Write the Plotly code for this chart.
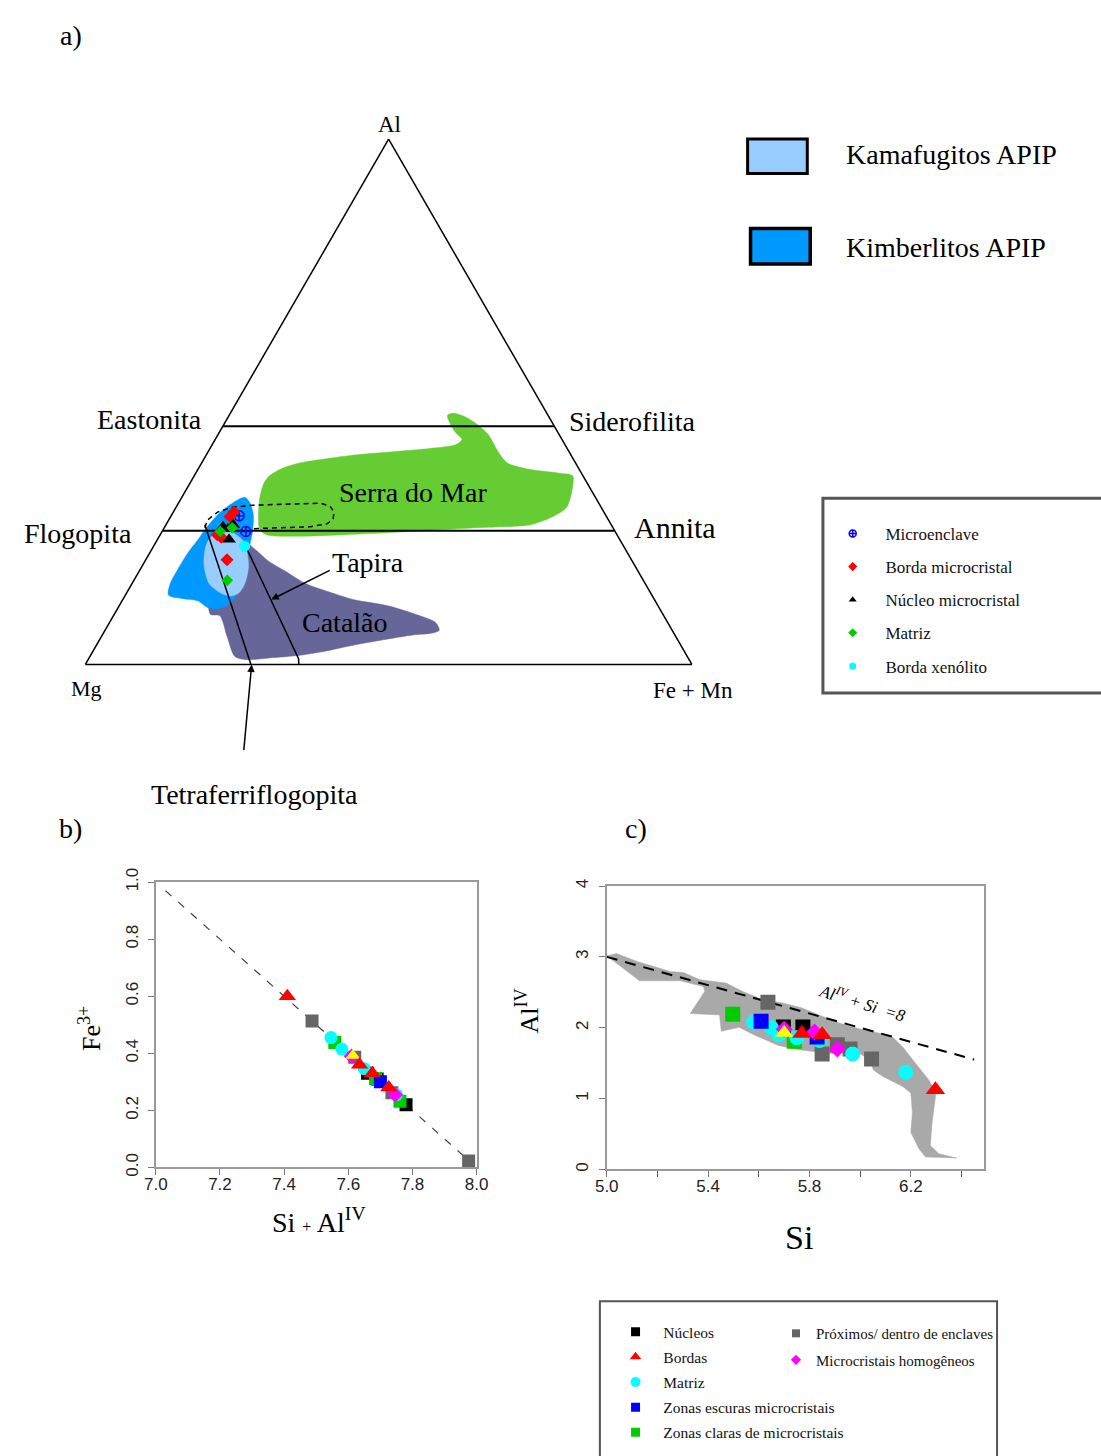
import plotly.graph_objects as go

W, H = 1101, 1456
SERIF = "Liberation Serif, Times New Roman, serif"
SANS = "Liberation Sans, Arial, sans-serif"
NB = "\u00a0"

# ---------------- Panel a: ternary Al - Mg - (Fe+Mn), values in % ----------------
# Fields given as Al % and Fe+Mn %; Mg = 100 - Al - Fe
serra_al = [25.7, 31.2, 34.4, 35.9, 37.4, 38.3, 39.2, 40.0, 40.5, 41.1, 41.8, 42.8, 44.2, 46.1, 47.4,
            47.8, 47.4, 46.1, 43.7, 40.5, 38.3, 37.2, 36.4, 35.9, 33.6, 29.9, 27.9, 26.6, 26.0, 25.3,
            24.7, 24.4, 24.7]
serra_fe = [15.9, 13.1, 12.2, 12.4, 13.9, 16.0, 20.4, 25.5, 30.6, 36.2, 40.1, 40.7, 38.9, 37.0, 36.0,
            36.6, 38.4, 41.1, 44.6, 47.8, 50.5, 54.3, 60.0, 62.4, 63.5, 64.4, 62.7, 60.1, 51.2, 40.9,
            30.4, 22.5, 17.5]

kimb_al = [31.8, 30.7, 28.4, 25.3, 22.9, 19.1, 14.5, 12.1, 10.8, 10.8, 12.1, 12.5, 13.2, 15.4, 18.2,
           21.4, 23.8, 25.7, 28.8, 30.7]
kimb_fe = [10.4, 11.8, 13.5, 14.9, 15.7, 17.0, 18.1, 18.2, 17.2, 14.8, 12.5, 9.9, 7.1, 6.3, 6.2,
           6.3, 6.7, 6.9, 7.7, 8.9]

kama_al = [23.0, 19.1, 15.4, 13.6, 13.0, 13.6, 15.4, 18.6, 21.6, 23.4, 25.3, 25.0]
kama_fe = [8.5, 10.0, 12.7, 15.5, 17.4, 18.5, 18.6, 17.6, 15.8, 14.4, 11.2, 9.0]

catal_al = [23.2, 21.6, 19.7, 17.7, 15.4, 13.6, 12.3, 11.2, 9.5, 8.0, 6.5, 6.0, 5.6, 4.8, 3.7,
            2.4, 1.7, 1.3, 0.9, 1.5, 5.2, 9.3, 9.5, 12.1, 13.6, 17.3]
catal_fe = [14.7, 17.5, 20.3, 24.2, 28.6, 33.9, 38.2, 44.1, 49.8, 53.7, 55.1, 54.3, 51.2, 47.3, 42.5,
            37.8, 34.3, 30.3, 26.1, 23.9, 20.8, 17.5, 15.9, 14.4, 18.2, 18.0]

tapira_l_al = [26.6, 0.0]
tapira_l_fe = [6.4, 27.3]
tapira_r_al = [22.7, 1.1, 0.0]
tapira_r_fe = [15.0, 34.6, 35.2]

dash_al = [26.0, 27.5, 29.0, 29.9, 30.3, 30.5, 30.7, 30.1, 29.0, 27.7, 26.8, 26.2, 26.0, 25.8]
dash_fe = [6.7, 6.4, 7.3, 9.2, 12.3, 17.8, 23.4, 25.3, 26.5, 27.0, 26.5, 24.0, 18.4, 14.2]

east_al = 45.35   # Eastonita - Siderofilita divide
flog_al = 25.46   # Flogopita - Annita divide

micro_al = [28.3, 25.3]
micro_fe = [11.2, 13.8]
bmicro_al = [29.0, 28.1, 24.7, 24.2, 19.9]
bmicro_fe = [10.0, 9.8, 9.4, 10.3, 13.4]
nmicro_al = [26.2, 25.8, 23.8, 26.6]
nmicro_fe = [9.6, 10.6, 11.8, 11.1]
matriz_al = [25.3, 26.0, 16.0]
matriz_fe = [9.6, 11.2, 15.4]
bxeno_al = [22.5]
bxeno_fe = [15.0]

# ---------------- Panel b: Si + AlIV vs Fe3+ ----------------
b_nuc_x = [7.66, 7.69, 7.78];              b_nuc_y = [0.33, 0.31, 0.22]
b_bor_x = [7.41, 7.635, 7.675, 7.726];     b_bor_y = [0.60, 0.36, 0.33, 0.28]
b_mat_x = [7.546, 7.58, 7.65, 7.75];       b_mat_y = [0.455, 0.415, 0.346, 0.255]
b_esc_x = [7.70];                          b_esc_y = [0.30]
b_cla_x = [7.558, 7.685, 7.761];           b_cla_y = [0.438, 0.312, 0.232]
b_pro_x = [7.487, 7.62, 7.736, 7.975];     b_pro_y = [0.513, 0.386, 0.262, 0.023]
b_hom_x = [7.61, 7.746];                   b_hom_y = [0.39, 0.255]
b_yel_x = [7.614];                         b_yel_y = [0.392]
b_line_x = [7.03, 7.97];                   b_line_y = [0.97, 0.03]

# ---------------- Panel c: Si vs AlIV ----------------
c_nuc_x = [5.697, 5.774];                  c_nuc_y = [2.01, 2.01]
c_bor_x = [5.77, 5.85, 6.297];             c_bor_y = [1.92, 1.90, 1.125]
c_mat_x = [5.58, 5.65, 5.68, 5.75, 5.84, 5.97, 6.18]
c_mat_y = [2.08, 2.00, 1.90, 1.86, 1.82, 1.63, 1.37]
c_esc_x = [5.609, 5.83];                   c_esc_y = [2.09, 1.87]
c_cla_x = [5.497, 5.74];                   c_cla_y = [2.19, 1.81]
c_pro_x = [5.636, 5.91, 5.85, 5.96, 6.045]
c_pro_y = [2.36, 1.76, 1.63, 1.70, 1.56]
c_hom_x = [5.70, 5.82, 5.91];              c_hom_y = [1.98, 1.94, 1.70]
c_yel_x = [5.70];                          c_yel_y = [1.93]
c_line_x = [5.0, 6.45];                    c_line_y = [3.0, 1.55]

field_si = [5.000, 5.039, 5.123, 5.252, 5.303, 5.368, 5.471, 5.535, 5.613, 5.690, 5.768, 5.832,
            5.910, 6.000, 6.090, 6.129, 6.168, 6.219, 6.271, 6.299, 6.284, 6.277, 6.310, 6.381,
            6.258, 6.232, 6.200, 6.206, 6.200, 6.168, 6.090, 6.052, 6.039, 6.000, 5.961, 5.910,
            5.832, 5.755, 5.677, 5.632, 5.574, 5.523, 5.452, 5.445, 5.329, 5.387, 5.381, 5.290,
            5.129, 5.065]
field_al = [3.014, 3.046, 2.931, 2.792, 2.778, 2.676, 2.630, 2.514, 2.398, 2.352, 2.282, 2.190,
            2.074, 1.981, 1.912, 1.866, 1.727, 1.495, 1.264, 1.079, 0.662, 0.338, 0.222, 0.162,
            0.176, 0.292, 0.523, 0.801, 1.079, 1.171, 1.310, 1.403, 1.542, 1.634, 1.704, 1.625,
            1.657, 1.690, 1.750, 1.819, 1.912, 2.005, 1.949, 2.181, 2.199, 2.514, 2.583, 2.662,
            2.662, 2.838]


def mg(al, fe):
    return [round(100 - a - f, 2) for a, f in zip(al, fe)]


fig = go.Figure()


def tern_fill(al, fe, color, name):
    b = mg(al, fe)
    fig.add_trace(go.Scatterternary(a=al + al[:1], b=b + b[:1], c=fe + fe[:1],
                                    mode="lines", fill="toself", fillcolor=color,
                                    line=dict(color=color, width=0.5, shape="spline", smoothing=0.8),
                                    name=name, showlegend=False, hoverinfo="skip"))


tern_fill(catal_al, catal_fe, "#666699", "Catalão")
tern_fill(kimb_al, kimb_fe, "#0099ff", "Kimberlitos APIP")
tern_fill(kama_al, kama_fe, "#99ccff", "Kamafugitos APIP")
tern_fill(serra_al, serra_fe, "#66cc33", "Serra do Mar")


def tern_line(al, fe, width=1.5, dash="solid"):
    fig.add_trace(go.Scatterternary(a=al, b=mg(al, fe), c=fe, mode="lines",
                                    line=dict(color="black", width=width, dash=dash),
                                    showlegend=False, hoverinfo="skip"))


tern_line([east_al, east_al], [0, 100 - east_al], width=2)
tern_line([flog_al, flog_al], [0, 100 - flog_al], width=2)
tern_line(tapira_l_al, tapira_l_fe)
tern_line(tapira_r_al, tapira_r_fe)
tern_line(dash_al, dash_fe, width=1.5, dash="5px,4px")

tern_series = [
    (micro_al, micro_fe, "Microenclave", "circle-cross-open", "#0000ff", 10, 7),
    (bmicro_al, bmicro_fe, "Borda microcristal", "diamond", "#ff0000", 10, 7),
    (nmicro_al, nmicro_fe, "Núcleo microcristal", "triangle-up", "#000000", 12, 7),
    (matriz_al, matriz_fe, "Matriz", "diamond", "#00cc00", 9, 7),
    (bxeno_al, bxeno_fe, "Borda xenólito", "circle", "#00ffff", 11, 7),
]
for i, (al, fe, name, sym, col, sz, lsz) in enumerate(tern_series):
    mk = dict(symbol=sym, color=col, size=sz)
    if sym.endswith("open"):
        mk["line"] = dict(color=col, width=1.5)
    fig.add_trace(go.Scatterternary(a=al, b=mg(al, fe), c=fe, mode="markers", marker=mk,
                                    name=name, showlegend=False))
    lmk = dict(mk, size=lsz)
    fig.add_trace(go.Scatter(x=[None], y=[None], mode="markers", marker=lmk, name=NB * 3 + name,
                             legend="legend", legendgroup="a%d" % i, showlegend=True,
                             xaxis="x", yaxis="y"))

# ---------------- Panels b and c ----------------
fig.add_trace(go.Scatter(x=field_si + field_si[:1], y=field_al + field_al[:1], mode="lines",
                         fill="toself", fillcolor="#a9a9a9", line=dict(color="#a9a9a9", width=0.5),
                         xaxis="x2", yaxis="y2", showlegend=False, hoverinfo="skip"))
fig.add_trace(go.Scatter(x=b_line_x, y=b_line_y, mode="lines",
                         line=dict(color="#444", width=1.2, dash="8px,9px"),
                         xaxis="x", yaxis="y", showlegend=False, hoverinfo="skip"))
fig.add_trace(go.Scatter(x=c_line_x, y=c_line_y, mode="lines",
                         line=dict(color="black", width=2, dash="11px,8px"),
                         xaxis="x2", yaxis="y2", showlegend=False, hoverinfo="skip"))

series = [
    ("Núcleos", "square", "#000000", b_nuc_x, b_nuc_y, c_nuc_x, c_nuc_y, 13, 15),
    ("Próximos/ dentro de enclaves", "square", "#666666", b_pro_x, b_pro_y, c_pro_x, c_pro_y, 13, 15),
    ("Zonas claras de microcristais", "square", "#00cc00", b_cla_x, b_cla_y, c_cla_x, c_cla_y, 13, 15),
    ("Matriz", "circle", "#00ffff", b_mat_x, b_mat_y, c_mat_x, c_mat_y, 13, 15),
    ("Zonas escuras microcristais", "square", "#0000ff", b_esc_x, b_esc_y, c_esc_x, c_esc_y, 13, 15),
    ("Microcristais homogêneos", "diamond", "#ff00ff", b_hom_x, b_hom_y, c_hom_x, c_hom_y, 12, 13),
    ("amarelo", "triangle-up", "#ffff00", b_yel_x, b_yel_y, c_yel_x, c_yel_y, 13, 16),
    ("Bordas", "triangle-up", "#ff0000", b_bor_x, b_bor_y, c_bor_x, c_bor_y, 15, 17),
]
for name, sym, col, bx, by, cx, cy, sb, sc in series:
    fig.add_trace(go.Scatter(x=bx, y=by, mode="markers", name=name,
                             marker=dict(symbol=sym, color=col, size=sb),
                             xaxis="x", yaxis="y", showlegend=False))
    fig.add_trace(go.Scatter(x=cx, y=cy, mode="markers", name=name,
                             marker=dict(symbol=sym, color=col, size=sc),
                             xaxis="x2", yaxis="y2", showlegend=False))

legend_entries = [
    ("Núcleos", "square", "#000000", 9, "legend2"),
    ("Bordas", "triangle-up", "#ff0000", 10, "legend2"),
    ("Matriz", "circle", "#00ffff", 10, "legend2"),
    ("Zonas escuras microcristais", "square", "#0000ff", 9, "legend2"),
    ("Zonas claras de microcristais", "square", "#00cc00", 9, "legend2"),
    ("Próximos/ dentro de enclaves", "square", "#666666", 8, "legend3"),
    ("Microcristais homogêneos", "diamond", "#ff00ff", 8, "legend3"),
]
for i, (name, sym, col, sz, leg) in enumerate(legend_entries):
    label = (NB * 2 + name) if leg == "legend2" else name
    fig.add_trace(go.Scatter(x=[None], y=[None], mode="markers", name=label,
                             marker=dict(symbol=sym, color=col, size=sz),
                             legend=leg, legendgroup="b%d" % i, showlegend=True,
                             xaxis="x", yaxis="y"))


# ---------------- Layout (positions given in page pixels) ----------------
def px(x):
    return x / W


def py(y):
    return 1 - y / H


tern_axis = dict(showline=True, linecolor="black", linewidth=1.5, showgrid=False,
                 showticklabels=False, ticks="", title=dict(text=""), min=0)

axis_common = dict(showline=True, mirror=True, linecolor="#9a9a9a", linewidth=1.5, showgrid=False,
                   zeroline=False, ticks="outside", ticklen=6, tickcolor="#777",
                   tickfont=dict(family=SANS, size=17, color="#222"))

fig.update_layout(
    width=W, height=H, autosize=False, margin=dict(l=0, r=0, t=0, b=0),
    paper_bgcolor="white", plot_bgcolor="white",
    ternary=dict(domain=dict(x=[px(75), px(695)], y=[py(663), py(125)]), sum=100, bgcolor="white",
                 aaxis=tern_axis, baxis=tern_axis, caxis=tern_axis),
    xaxis=dict(axis_common, domain=[px(147), px(475)], range=[7, 8], tick0=7, dtick=0.2,
               tickformat=".1f", anchor="y", ticklabelstandoff=-6),
    yaxis=dict(axis_common, domain=[py(1172), py(882)], range=[0, 1], tick0=0, dtick=0.2,
               tickformat=".1f", tickangle=-90, anchor="x", ticklabelstandoff=3),
    xaxis2=dict(axis_common, domain=[px(608), px(994)], range=[5.0, 6.49], tick0=5.0, dtick=0.4,
                tickformat=".1f", anchor="y2", ticklabelstandoff=-6,
                minor=dict(dtick=0.2, tick0=5.0, ticks="outside", ticklen=6, tickcolor="#555")),
    yaxis2=dict(axis_common, domain=[py(1174), py(886)], range=[0, 4], tick0=0, dtick=1,
                tickangle=-90, anchor="x2", ticklabelstandoff=4),
    legend=dict(x=px(839), y=py(510), xanchor="left", yanchor="top", bgcolor="rgba(0,0,0,0)",
                font=dict(family=SERIF, size=17, color="#111"), traceorder="grouped",
                tracegroupgap=8, itemsizing="trace"),
    legend2=dict(x=px(617), y=py(1322), xanchor="left", yanchor="top", bgcolor="rgba(0,0,0,0)",
                 font=dict(family=SERIF, size=15.5, color="#111"), traceorder="grouped",
                 tracegroupgap=2, itemsizing="trace"),
    legend3=dict(x=px(781), y=py(1324), xanchor="left", yanchor="top", bgcolor="rgba(0,0,0,0)",
                 font=dict(family=SERIF, size=15, color="#111"), traceorder="grouped",
                 tracegroupgap=4, itemsizing="trace"),
    showlegend=True,
)

shapes = [
    dict(type="rect", xref="paper", yref="paper", x0=px(752), x1=px(813), y0=py(162), y1=py(127),
         fillcolor="#99ccff", line=dict(color="black", width=3)),
    dict(type="rect", xref="paper", yref="paper", x0=px(755), x1=px(816), y0=py(254), y1=py(218),
         fillcolor="#0099ff", line=dict(color="black", width=3.5)),
    dict(type="rect", xref="paper", yref="paper", x0=px(829), x1=px(1115), y0=py(690), y1=py(492),
         fillcolor="rgba(0,0,0,0)", line=dict(color="#555", width=3)),
    dict(type="rect", xref="paper", yref="paper", x0=px(601), x1=px(1007), y0=py(1475), y1=py(1308),
         fillcolor="rgba(0,0,0,0)", line=dict(color="#555", width=2)),
]
fig.update_layout(shapes=shapes)


def ann(text, x, y, size, family=SERIF, **kw):
    d = dict(text=text, x=px(x), y=py(y), xref="paper", yref="paper", showarrow=False,
             xanchor="center", yanchor="middle",
             font=dict(family=family, size=size, color="black"))
    d.update(kw)
    fig.add_annotation(**d)


ann("a)", 60, 22, 28)
ann("b)", 60, 828, 28)
ann("c)", 638, 828, 28)
ann("Al", 386, 112, 23)
ann("Mg", 76, 685, 22)
ann("Fe + Mn", 696, 687, 23)
ann("Eastonita", 141, 412, 28)
ann("Siderofilita", 634, 414, 28)
ann("Flogopita", 67, 528, 28)
ann("Annita", 678, 522, 30)
ann("Serra do Mar", 410, 486, 28)
ann("Tapira", 364, 557, 28)
ann("Catalão", 340, 618, 28)
ann("Tetraferriflogopita", 248, 793, 28)
ann("Kamafugitos APIP", 960, 143, 28)
ann("Kimberlitos APIP", 955, 237, 28)
ann("Fe<sup>3+</sup>", 80, 1031, 26, textangle=-90)
ann("Si <span style='font-size:16px'>+</span> Al<sup>IV</sup>", 314, 1226, 28)
ann("Al<sup>IV</sup>", 528, 1013, 26, textangle=-90)
ann("Si", 805, 1243, 34)
fig.add_annotation(text="<i>Al<sup>IV</sup> + Si  =8</i>", x=6.01, y=2.37, xref="x2", yref="y2",
                   showarrow=False, textangle=17, xanchor="center", yanchor="middle",
                   font=dict(family=SERIF, size=17, color="black"))

# arrows
fig.add_annotation(text="", x=px(265), y=py(595), xref="paper", yref="paper", showarrow=True,
                   ax=60, ay=-30, arrowhead=2, arrowsize=1, arrowwidth=1.5, arrowcolor="black")
fig.add_annotation(text="", x=px(245), y=py(661), xref="paper", yref="paper", showarrow=True,
                   ax=-8, ay=87, arrowhead=2, arrowsize=1, arrowwidth=1.5, arrowcolor="black")

fig.write_html("out.html")
